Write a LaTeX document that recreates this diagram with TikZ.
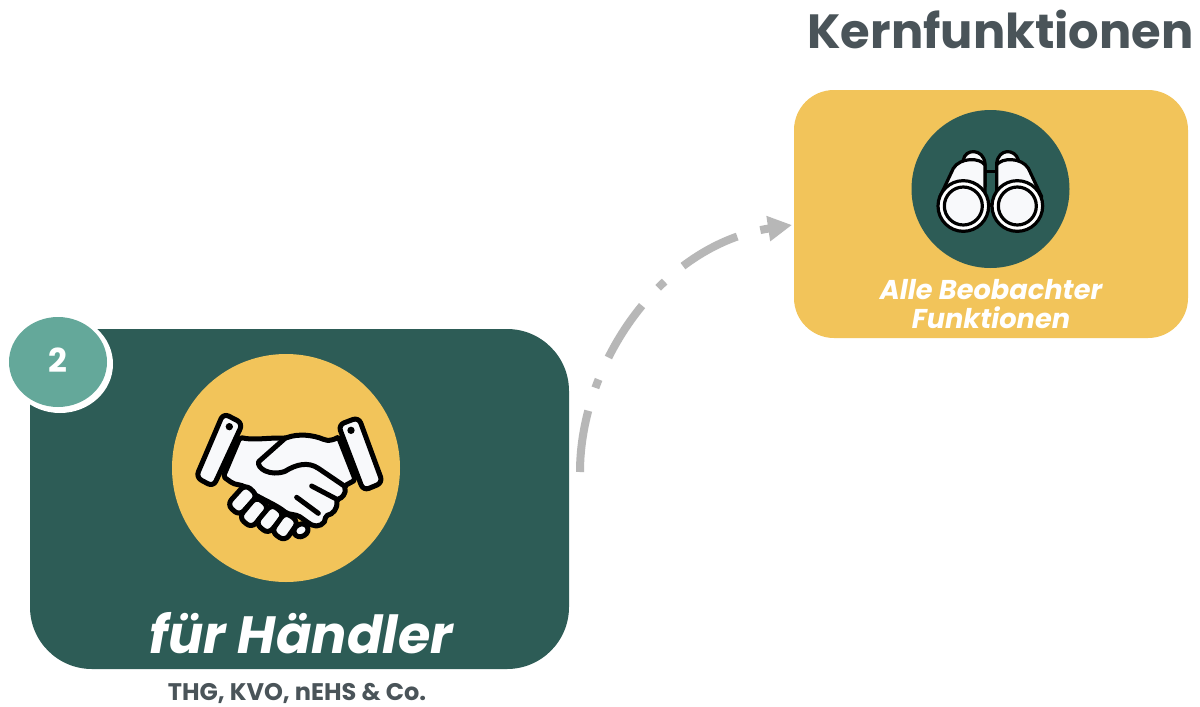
\documentclass[tikz,border=0pt]{standalone}
\usepackage{fontspec}
\setmainfont{Poppins}
\usetikzlibrary{arrows.meta,shapes.geometric}

\definecolor{darkgreen}{HTML}{2D5C56}
\definecolor{sunyellow}{HTML}{F2C45A}
\definecolor{lightgreen}{HTML}{64A89A}
\definecolor{titlegray}{HTML}{4A5459}
\definecolor{flowgray}{HTML}{B7B7B7}
\definecolor{iconwhite}{HTML}{F8F9FB}

\begin{document}
\begin{tikzpicture}[x=1pt,y=-1pt]
\tikzstyle{every node}=[inner sep=0pt,outer sep=0pt]
\tikzstyle{mainbox}=[rectangle,rounded corners=62pt,fill=darkgreen,minimum width=539pt,minimum height=340pt]
\tikzstyle{corebox}=[rectangle,rounded corners=40pt,fill=sunyellow,minimum width=394pt,minimum height=248pt]
\tikzstyle{iconlabel}=[text=white,font=\bfseries\itshape,align=center]
\tikzstyle{graytext}=[text=titlegray,font=\bfseries]
\tikzstyle{flow}=[draw=flowgray,line width=8pt,dash pattern=on 62pt off 24pt on 9pt off 24pt,-{Triangle[length=24pt,width=24pt]}]
\tikzstyle{hand}=[draw=black,line width=5pt,fill=iconwhite,line join=round]
\tikzstyle{handline}=[draw=black,line width=5pt,line cap=round,line join=round]
\tikzstyle{glass}=[draw=black,line width=3.2pt,fill=iconwhite,line join=round]

\useasboundingbox (0,0) rectangle (1200,707);
\fill[white] (0,0) rectangle (1200,707);

\node[mainbox] (trader) at (299.5,499) {};
\node[corebox] (core) at (991,214) {};
\node[circle,fill=sunyellow,minimum size=228pt] (handcircle) at (286,468) {};
\node[circle,fill=darkgreen,minimum size=158pt] (glasscircle) at (990.5,189) {};
\node[ellipse,fill=white,minimum width=106pt,minimum height=98pt] (badgering) at (60,364) {};
\node[ellipse,fill=lightgreen,minimum width=98pt,minimum height=90pt] (badge) at (58,362) {};
\node[text=white,font=\bfseries\fontsize{33}{33}\selectfont] (badgetext) at (57.5,360) {2};

\node[graytext,font=\bfseries\fontsize{48}{48}\selectfont] (title) at (1000.5,29) {Kernfunktionen};
\node[iconlabel,font=\bfseries\itshape\fontsize{52.4}{52}\selectfont] (tradertext) at (301,633) {für Händler};
\node[graytext,font=\bfseries\fontsize{24}{24}\selectfont] (tradersub) at (297,693) {THG, KVO, nEHS \& Co.};
\node[iconlabel,font=\bfseries\itshape\fontsize{27.2}{28.5}\selectfont] (coretext) at (991,304) {Alle Beobachter\\Funktionen};

% handshake
\begin{scope}[shift={(170,350)},scale=1/3]
\draw[hand,rounded corners=2pt] (210,262) .. controls (250,272) and (300,262) .. (345,265)
  .. controls (385,250) and (430,255) .. (465,270) .. controls (480,272) and (495,268) .. (505,260)
  -- (556,390) -- (523,408) .. controls (530,430) and (515,445) .. (500,448)
  .. controls (503,478) and (488,493) .. (466,497) .. controls (468,522) and (442,534) .. (420,522)
  -- (385,497) -- (350,490) .. controls (320,465) and (280,450) .. (240,425)
  .. controls (225,405) and (205,405) .. (188,400) -- (160,380) -- cycle;
\foreach \cx/\cy/\ang/\len/\wid in {217/450/48/41/25, 252/487/50/41/25, 300/507/50/38/25, 345/530/55/36/25, 393/541/30/22/18}
  \draw[hand,rotate around={\ang:(\cx,\cy)},rounded corners=6.5pt] (\cx-\len,\cy-\wid) rectangle (\cx+\len,\cy+\wid);
\draw[handline] (345,265) -- (266,335) .. controls (260,355) and (300,380) .. (345,364)
  .. controls (380,342) and (415,335) .. (445,355) -- (523,408);
\draw[handline] (425,408) -- (497,446);
\draw[handline] (380,442) -- (445,490);
\draw[hand,rounded corners=6pt] (160,190) -- (218,220) -- (130,410) -- (78,382) -- cycle;
\draw[hand,rounded corners=6pt] (505,225) -- (566,202) -- (638,398) -- (580,422) -- cycle;
\fill[black] (178,230) circle (11);
\fill[black] (543,241) circle (11);
\end{scope}

% binoculars
\begin{scope}[shift={(900,100)},scale=1/3]
\draw[draw=black,line width=3.2pt] (255,215) -- (290,215) (255,315) -- (290,315);
\draw[glass] (190,180) .. controls (195,145) and (250,145) .. (255,190) -- (255,260) -- (190,260) -- cycle;
\draw[glass] (290,190) .. controls (295,145) and (345,145) .. (355,180) -- (355,260) -- (290,260) -- cycle;
\draw[glass] (120,290) -- (160,205) .. controls (180,172) and (240,172) .. (255,195) -- (255,290) -- cycle;
\draw[glass] (425,290) -- (385,205) .. controls (365,172) and (305,172) .. (290,195) -- (290,290) -- cycle;
\draw[glass,fill=white] (190,318) circle (76);
\draw[glass] (190,318) circle (57);
\draw[glass,fill=white] (352,318) circle (76);
\draw[glass] (352,318) circle (57);
\end{scope}

\coordinate (flowstart) at (580,472);
\coordinate (flowend) at (792,225);
\draw[flow] (flowstart) .. controls (580,365) and (660,245) .. (flowend);
\end{tikzpicture}
\end{document}
